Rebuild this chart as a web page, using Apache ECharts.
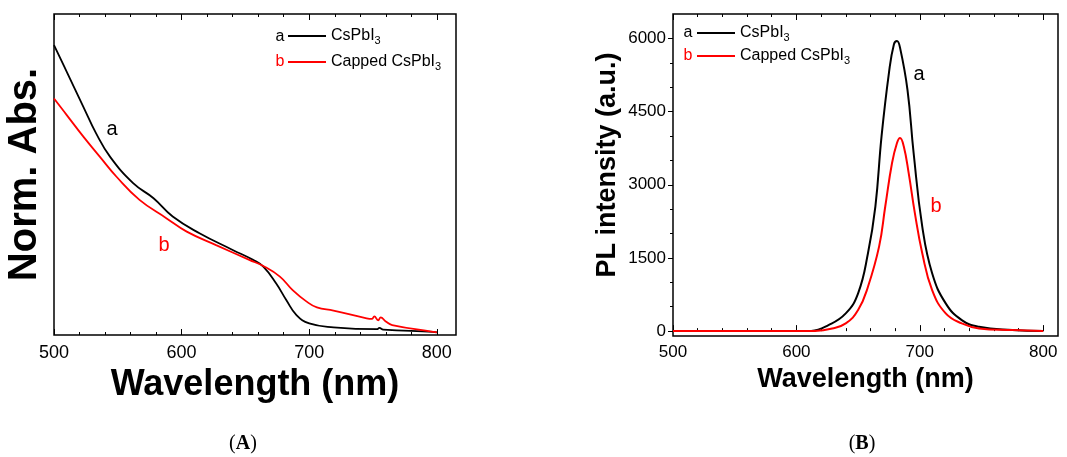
<!DOCTYPE html>
<html lang="en">
<head>
    <meta charset="UTF-8">
    <title>Absorption and PL</title>
    <style>
      * { padding: 0; margin: 0; }
      body { background: #fff; }
    </style>
</head>
<body>
    <div id="main" style="width: 1067px;height:457px;"></div>
    <script src="https://cdn.jsdelivr.net/npm/echarts@6/dist/echarts.min.js"></script>
    <script>
        // (A) normalized absorbance
        var absWlA = [500, 510, 523, 533, 544, 562, 578, 593, 614, 640, 656, 664, 674, 682, 690, 700, 719, 753, 755, 758, 797, 800];
        var absA   = [0.903, 0.820, 0.711, 0.628, 0.555, 0.473, 0.426, 0.369, 0.317, 0.265, 0.234, 0.213, 0.161, 0.109, 0.062, 0.036, 0.024, 0.018, 0.022, 0.017, 0.010, 0.008];
        var absWlB = [500, 510, 523, 536, 549, 567, 588, 604, 627, 653, 664, 677, 687, 698, 706, 719, 745, 749, 751, 754, 756, 760, 765, 797, 800];
        var absB   = [0.737, 0.685, 0.618, 0.555, 0.493, 0.421, 0.364, 0.322, 0.280, 0.234, 0.215, 0.182, 0.140, 0.104, 0.086, 0.076, 0.052, 0.050, 0.058, 0.046, 0.055, 0.042, 0.031, 0.010, 0.008];

        // (B) PL intensity (a.u.)
        var plWlA = [500, 600, 612, 626, 640, 650, 658, 664, 669, 675, 679, 681.5, 684, 690, 695, 702, 710, 721, 734, 748, 775, 800];
        var plA   = [0, 0, 5, 123, 363, 775, 1596, 2554, 3992, 5295, 5877, 5945, 5808, 4952, 3651, 2143, 1185, 569, 226, 89, 21, 0];
        var plWlB = [500, 600, 615, 629, 640, 650, 658, 667, 672, 677.5, 681.5, 684, 687, 691, 696, 702, 710, 721, 734, 748, 775, 800];
        var plB   = [0, 0, 5, 55, 158, 431, 910, 1732, 2554, 3446, 3857, 3960, 3788, 3240, 2418, 1596, 842, 363, 158, 55, 21, 0];

        var xMajor = [500, 600, 700, 800];
        var xMinor = [520, 540, 560, 580, 620, 640, 660, 680, 720, 740, 760, 780];
        var plMajor = [0, 1500, 3000, 4500, 6000];
        var plMinor = [500, 1000, 2000, 2500, 3500, 4000, 5000, 5500];

        var names = ['CsPbI3', 'Capped CsPbI3'];
        var sans = 'Liberation Sans, Arial, sans-serif';

        function pairs(xs, ys) {
            return xs.map(function (x, i) { return [x, ys[i]]; });
        }

        // bottom + top axes, major and minor ticks inside
        function xAxes(grid, max, labelSize, nameSize, nameGap, labelMargin) {
            var list = [];
            ['bottom', 'top'].forEach(function (pos) {
                [[xMajor, 6], [xMinor, 3]].forEach(function (t, k) {
                    var ax = {
                        gridIndex: grid, type: 'value', position: pos, min: 500, max: max,
                        axisLine: {show: false}, splitLine: {show: false},
                        axisTick: {show: true, inside: true, length: t[1], customValues: t[0], lineStyle: {color: '#000', width: 1}},
                        axisLabel: {show: false}
                    };
                    if (pos == 'bottom' && k == 0) {
                        ax.axisLabel = {show: true, customValues: xMajor, color: '#000', fontSize: labelSize, fontFamily: sans, margin: labelMargin};
                        ax.name = 'Wavelength (nm)';
                        ax.nameLocation = 'middle';
                        ax.nameGap = nameGap;
                        ax.nameTextStyle = {color: '#000', fontSize: nameSize, fontWeight: 'bold', fontFamily: sans};
                    }
                    list.push(ax);
                });
            });
            return list;
        }

        function line(name, data, color, xi, yi, w) {
            return {
                name: name, type: 'line', xAxisIndex: xi, yAxisIndex: yi,
                data: data, symbol: 'none', smooth: 0.45,
                lineStyle: {color: color, width: w}, itemStyle: {color: color},
                animation: false
            };
        }

        function legend(left, top, gap) {
            return {
                data: names, orient: 'vertical', left: left, top: top, padding: 0,
                icon: 'rect', itemWidth: 38, itemHeight: 2, itemGap: gap,
                textStyle: {
                    color: '#000', fontSize: 16, fontFamily: sans, lineHeight: 20,
                    rich: {sub: {fontSize: 11, lineHeight: 12, verticalAlign: 'bottom', fontFamily: sans, color: '#000'}}
                },
                formatter: function (n) { return n.replace(/3$/, '{sub|3}'); }
            };
        }

        function txt(x, y, s, color, size) {
            return {type: 'text', x: x, y: y, style: {text: s, fill: color, font: size + 'px ' + sans, align: 'center', verticalAlign: 'middle'}};
        }

        function panel(x, y, letter) {
            return {
                type: 'text', x: x, y: y,
                style: {
                    text: '{p|(}{b|' + letter + '}{p|)}', align: 'center', verticalAlign: 'middle',
                    rich: {
                        p: {fontSize: 20, fontFamily: 'Liberation Serif, serif', fill: '#000'},
                        b: {fontSize: 20, fontFamily: 'Liberation Serif, serif', fontWeight: 'bold', fill: '#000'}
                    }
                }
            };
        }

        var option = {
            backgroundColor: '#fff',
            grid: [
                {left: 54, top: 14, right: 611, bottom: 122, show: true, borderColor: '#000', borderWidth: 1.5},
                {left: 673, top: 14, right: 9, bottom: 121, show: true, borderColor: '#000', borderWidth: 1.5}
            ],
            xAxis: xAxes(0, 815, 18, 36, 26, 9).concat(xAxes(1, 812, 17, 27, 24, 8)),
            yAxis: [
                {
                    gridIndex: 0, type: 'value', min: 0, max: 1,
                    axisLine: {show: false}, axisTick: {show: false}, axisLabel: {show: false}, splitLine: {show: false},
                    name: 'Norm. Abs.', nameLocation: 'middle', nameGap: 9,
                    nameTextStyle: {color: '#000', fontSize: 40, fontWeight: 'bold', fontFamily: sans}
                },
                {
                    gridIndex: 1, type: 'value', position: 'left', min: -100, max: 6500,
                    axisLine: {show: false}, splitLine: {show: false},
                    axisTick: {show: true, inside: false, length: 5, customValues: plMajor, lineStyle: {color: '#000'}},
                    axisLabel: {customValues: plMajor, color: '#000', fontSize: 17, fontFamily: sans, margin: 7,
                        formatter: function (v) { return String(v); }},
                    name: 'PL intensity (a.u.)', nameLocation: 'middle', nameGap: 52,
                    nameTextStyle: {color: '#000', fontSize: 27, fontWeight: 'bold', fontFamily: sans, padding: [0, 0, 0, 20]}
                },
                {
                    gridIndex: 1, type: 'value', position: 'left', min: -100, max: 6500,
                    axisLine: {show: false}, splitLine: {show: false}, axisLabel: {show: false},
                    axisTick: {show: true, inside: false, length: 3, customValues: plMinor, lineStyle: {color: '#000'}}
                }
            ],
            legend: [legend(288, 26, 6), legend(697, 23, 3)],
            series: [
                line(names[0], pairs(absWlA, absA), '#000', 0, 0, 1.8),
                line(names[1], pairs(absWlB, absB), '#ff0000', 0, 0, 1.8),
                line(names[0], pairs(plWlA, plA), '#000', 4, 1, 2),
                line(names[1], pairs(plWlB, plB), '#ff0000', 4, 1, 2)
            ],
            graphic: [
                txt(280, 37, 'a', '#000', 16), txt(280, 62, 'b', '#ff0000', 16),
                txt(688, 33, 'a', '#000', 16), txt(688, 56, 'b', '#ff0000', 16),
                txt(112, 129, 'a', '#000', 20), txt(164, 245, 'b', '#ff0000', 20),
                txt(919, 74, 'a', '#000', 20), txt(936, 206, 'b', '#ff0000', 20),
                panel(243, 444, 'A'), panel(862, 444, 'B')
            ]
        };

        var myChart = echarts.init(document.getElementById('main'));
        myChart.setOption(option);
    </script>
</body>
</html>
